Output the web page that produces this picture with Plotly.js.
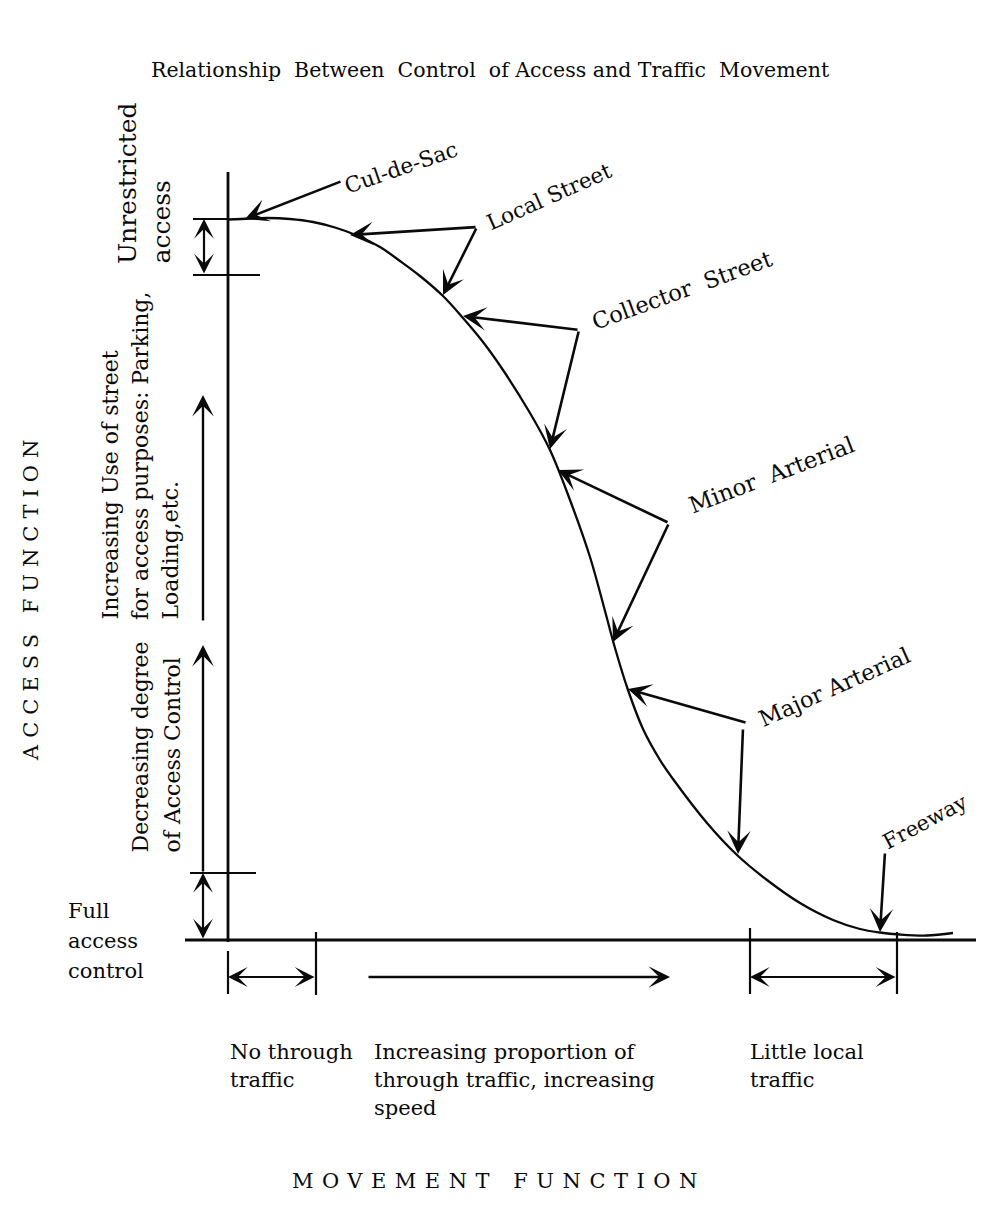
<!DOCTYPE html>
<html><head><meta charset="utf-8">
<script src="https://cdn.plot.ly/plotly-3.0.1.min.js"></script>
<style>html,body{margin:0;padding:0;background:#fff}</style>
</head><body><div id="chart" style="width:988px;height:1217px"></div>
<script>
// Curve: movement function (x) vs access function (y)
const movement = [0, 22, 39, 62, 85, 107, 129, 152, 172, 192, 215, 235, 255, 275, 302, 322, 342, 362, 377, 387, 400, 415, 432, 445, 479, 509, 539, 572, 605, 632, 652, 672, 699, 725];
const access   = [720.5, 721.5, 722, 721, 718, 712.5, 704.5, 693, 679, 664, 644, 622, 598, 570, 527, 490, 440, 383, 329, 292, 250, 211, 180, 161, 117, 85, 60, 37, 20, 11, 7.5, 5.5, 4.5, 7];

// Road classes
const roadClasses = ['Cul-de-Sac', 'Local Street', 'Collector  Street', 'Minor  Arterial', 'Major Arterial', 'Freeway'];

// Text labels
const titleText = 'Relationship  Between  Control  of Access and Traffic  Movement';
const yTitle = 'ACCESS FUNCTION';
const xTitle = 'MOVEMENT FUNCTION';
const bottomNotes = [['No through', 'traffic'], ['Increasing proportion of', 'through traffic, increasing', 'speed'], ['Little local', 'traffic']];
const leftNotes = [['Unrestricted', 'access'], ['Increasing Use of street', 'for access purposes: Parking,', 'Loading,etc.'], ['Decreasing degree', 'of Access Control']];
const fullNote = ['Full', 'access', 'control'];

// layout helpers: page pixel -> data units (origin at the axes corner)
const OX = 228, OY = 940;
const dx = p => p - OX;
const dy = p => OY - p;
const FONT = 'DejaVu Serif';
const BLACK = '#0a0a0a';

const shapes = [];
function seg(x0, y0, x1, y1, w) {
  shapes.push({type: 'line', xref: 'x', yref: 'y', x0: dx(x0), y0: dy(y0), x1: dx(x1), y1: dy(y1),
    line: {color: BLACK, width: w || 2.5}});
}
const ann = [];
function arrow(tx, ty, sx, sy, both, w) {
  const a = {x: dx(tx), y: dy(ty), ax: dx(sx), ay: dy(sy), xref: 'x', yref: 'y', axref: 'x', ayref: 'y',
    text: '', showarrow: true, arrowhead: 3, arrowsize: 1.5, arrowwidth: w || 2.6, arrowcolor: BLACK, standoff: 0, startstandoff: 0};
  if (both) { a.arrowside = 'end+start'; a.startarrowhead = 3; a.startarrowsize = 1.5; }
  ann.push(a);
}
function label(text, x, y, opts) {
  ann.push(Object.assign({x: dx(x), y: dy(y), xref: 'x', yref: 'y', text: text, showarrow: false,
    font: {family: FONT, size: 20, color: BLACK}, xanchor: 'center', yanchor: 'middle'}, opts || {}));
}
const f = s => ({family: FONT, size: s, color: BLACK});

// axes
seg(228, 172, 228, 942, 2.8);
seg(185, 940, 976, 940, 2.8);
// left brackets
seg(193, 219, 228, 219, 2.2);
seg(193, 275, 260, 275, 2.2);
seg(190, 873, 256, 873, 2.2);
arrow(204, 219, 204, 275, true, 2.2);
arrow(203, 395, 203, 622, false, 2.4);
arrow(203, 645, 203, 873, false, 2.4);
arrow(203, 873, 203, 940, true, 2.2);
// bottom brackets
seg(228, 951, 228, 994, 2.2);
seg(316, 932, 316, 995, 2.2);
seg(750, 928, 750, 994, 2.2);
seg(897, 932, 897, 994, 2.2);
arrow(228, 977, 316, 977, true, 2.2);
arrow(750, 977, 897, 977, true, 2.2);
arrow(670, 977, 367, 977, false, 2.4);

// pointers to the curve
arrow(245, 219, 342, 181);
arrow(350, 235, 477, 227); arrow(443, 295, 477, 227);
arrow(463, 316, 579, 330); arrow(550, 449, 579, 330);
arrow(558, 470, 669, 523); arrow(613, 642, 669, 523);
arrow(628, 689, 747, 723); arrow(738, 854, 743, 728);
arrow(880, 932, 885, 852);

// road class labels
const labelPos = [[401, 167, -19, 21.5], [549, 196, -24, 21.5], [682, 290, -20, 22.5], [771, 475, -21, 23], [834, 687, -24, 22.5], [925, 822, -28, 21]];
roadClasses.forEach((t, i) => label(t, labelPos[i][0], labelPos[i][1], {textangle: labelPos[i][2], font: f(labelPos[i][3])}));

// title
label(titleText, 490, 70, {font: f(20.5)});

// left rotated notes
const leftCols = [[127, 161], [110, 140, 170], [140, 172]];
const leftBase = [266, 622, 855];
const leftSize = [25, 22, 22];
leftNotes.forEach((lines, g) => lines.forEach((t, j) =>
  label(t, leftCols[g][j], leftBase[g], {textangle: -90, yanchor: 'bottom', font: f(leftSize[g])})));

// axis titles
label('<span style="letter-spacing:7px">' + yTitle + '</span>', 31, 597, {textangle: -90, font: f(21)});
label('<span style="letter-spacing:8.5px">' + xTitle + '</span>', 499, 1181, {font: f(21)});

// full access control
fullNote.forEach((t, j) => label(t, 66, 911 + 30 * j, {xanchor: 'left', font: f(21)}));

// bottom notes
const bottomLeft = [228, 372, 748];
bottomNotes.forEach((lines, g) => lines.forEach((t, j) =>
  label(t, bottomLeft[g], 1052 + 28 * j, {xanchor: 'left', font: f(21)})));

const trace = {x: movement, y: access, type: 'scatter', mode: 'lines', hoverinfo: 'skip',
  line: {color: BLACK, width: 2.3, shape: 'spline', smoothing: 1}};

const layout = {
  width: 988, height: 1217, margin: {l: 0, r: 0, t: 0, b: 0},
  paper_bgcolor: '#fff', plot_bgcolor: '#fff', showlegend: false,
  xaxis: {range: [-228, 760], visible: false, fixedrange: true},
  yaxis: {range: [-277, 940], visible: false, fixedrange: true},
  shapes: shapes, annotations: ann
};
Plotly.newPlot('chart', [trace], layout, {staticPlot: true, displayModeBar: false});
</script></body></html>
